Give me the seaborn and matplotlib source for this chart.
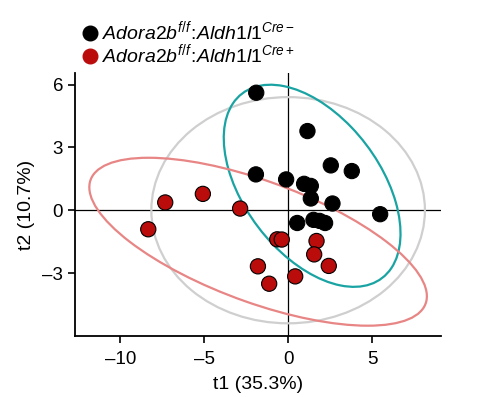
import numpy as np
import pandas as pd
import matplotlib
matplotlib.use("Agg")
import matplotlib.pyplot as plt
from matplotlib.patches import Ellipse
from matplotlib.lines import Line2D
import seaborn as sns

# ---- data ----
neg_t1 = [-1.90, 1.15, 2.54, 3.79, -1.92, -0.12, 0.95, 1.35, 1.35, 2.64, 5.48, 0.54, 1.51, 1.87, 2.20]
neg_t2 = [5.61, 3.78, 2.14, 1.87, 1.71, 1.47, 1.26, 1.16, 0.56, 0.32, -0.19, -0.61, -0.46, -0.51, -0.61]
pos_t1 = [-8.33, -7.32, -5.08, -2.86, -0.65, -0.38, 1.69, 1.55, -1.80, 2.42, 0.42, -1.13]
pos_t2 = [-0.91, 0.37, 0.78, 0.08, -1.39, -1.40, -1.47, -2.11, -2.68, -2.66, -3.16, -3.51]
groups = ["Cre-", "Cre+"]
x_ticks = [-10, -5, 0, 5]
y_ticks = [-3, 0, 3, 6]

plt.rcParams['font.family'] = ['Liberation Sans', 'DejaVu Sans']
plt.rcParams['mathtext.fontset'] = 'custom'
plt.rcParams['mathtext.it'] = 'Liberation Sans:italic'
plt.rcParams['mathtext.rm'] = 'Liberation Sans'
plt.rcParams['mathtext.sf'] = 'Liberation Sans'

df = pd.DataFrame({
    "t1": neg_t1 + pos_t1,
    "t2": neg_t2 + pos_t2,
    "group": [groups[0]] * len(neg_t1) + [groups[1]] * len(pos_t1),
})

fig = plt.figure(figsize=(4.96, 3.97), dpi=100)
ax = fig.add_axes([0.151, 0.154, 0.738, 0.662])

def cov_ellipse(x, y, k, **kw):
    x = np.asarray(x); y = np.asarray(y)
    cov = np.cov(x, y)
    vals, vecs = np.linalg.eigh(cov)
    order = vals.argsort()[::-1]
    vals, vecs = vals[order], vecs[:, order]
    angle = np.degrees(np.arctan2(vecs[1, 0], vecs[0, 0]))
    w, h = 2 * k * np.sqrt(vals)
    return Ellipse((x.mean(), y.mean()), w, h, angle=angle, fill=False, **kw)

# Hotelling-like ellipse on all scores (axis aligned)
allx = np.array(df.t1); ally = np.array(df.t2)
kall = 2.60
ax.add_patch(Ellipse((0, 0), 2 * kall * allx.std(ddof=1), 2 * kall * ally.std(ddof=1),
                     fill=False, ec="#cfcfcf", lw=1.6, zorder=1))
ax.add_patch(cov_ellipse(neg_t1, neg_t2, 2.75, ec="#1aa3a3", lw=1.6, zorder=1))
ax.add_patch(cov_ellipse(pos_t1, pos_t2, 2.87, ec="#e88585", lw=1.6, zorder=1))

ax.axhline(0, color="black", lw=0.9, zorder=0)
ax.axvline(0, color="black", lw=0.9, zorder=0)

sns.scatterplot(data=df, x="t1", y="t2", hue="group",
                palette={"Cre-": "black", "Cre+": "#bb0c0c"},
                s=120, edgecolor="black", linewidth=0.8, ax=ax, zorder=3, legend=False)

ax.set_xlim(-12.7, 9.1)
ax.set_ylim(-6.0, 6.55)
ax.set_xticks(x_ticks)
ax.set_yticks(y_ticks)
ax.set_xticklabels([str(v).replace("-", "\u2013") for v in x_ticks])
ax.set_yticklabels([str(v).replace("-", "\u2013") for v in y_ticks])
for s in ["top", "right"]:
    ax.spines[s].set_visible(False)
for s in ["left", "bottom"]:
    ax.spines[s].set_linewidth(1.3)
ax.tick_params(direction="out", length=5, width=1.2, labelsize=13.5)
ax.tick_params(axis="x", pad=6)
ax.tick_params(axis="y", pad=3.5)
ax.set_xlabel("t1 (35.3%)", fontsize=14, labelpad=6)
ax.set_ylabel("t2 (10.7%)", fontsize=14, labelpad=5)

# legend
handles = [Line2D([], [], marker="o", ls="", ms=10.5, mfc="black", mec="black"),
           Line2D([], [], marker="o", ls="", ms=10.5, mfc="#bb0c0c", mec="#bb0c0c")]
labels = [r"$\it{Adora2b}^{\it{f/f}}\!:\!\it{Aldh1l1}^{\it{Cre}-}$",
          r"$\it{Adora2b}^{\it{f/f}}\!:\!\it{Aldh1l1}^{\it{Cre}+}$"]
fig.legend(handles, labels, loc="upper left", bbox_to_anchor=(0.145, 0.97), frameon=False,
           fontsize=14, handletextpad=0.05, labelspacing=-0.05, borderaxespad=0, handlelength=1.1)

fig.savefig("out.png", dpi=100)
